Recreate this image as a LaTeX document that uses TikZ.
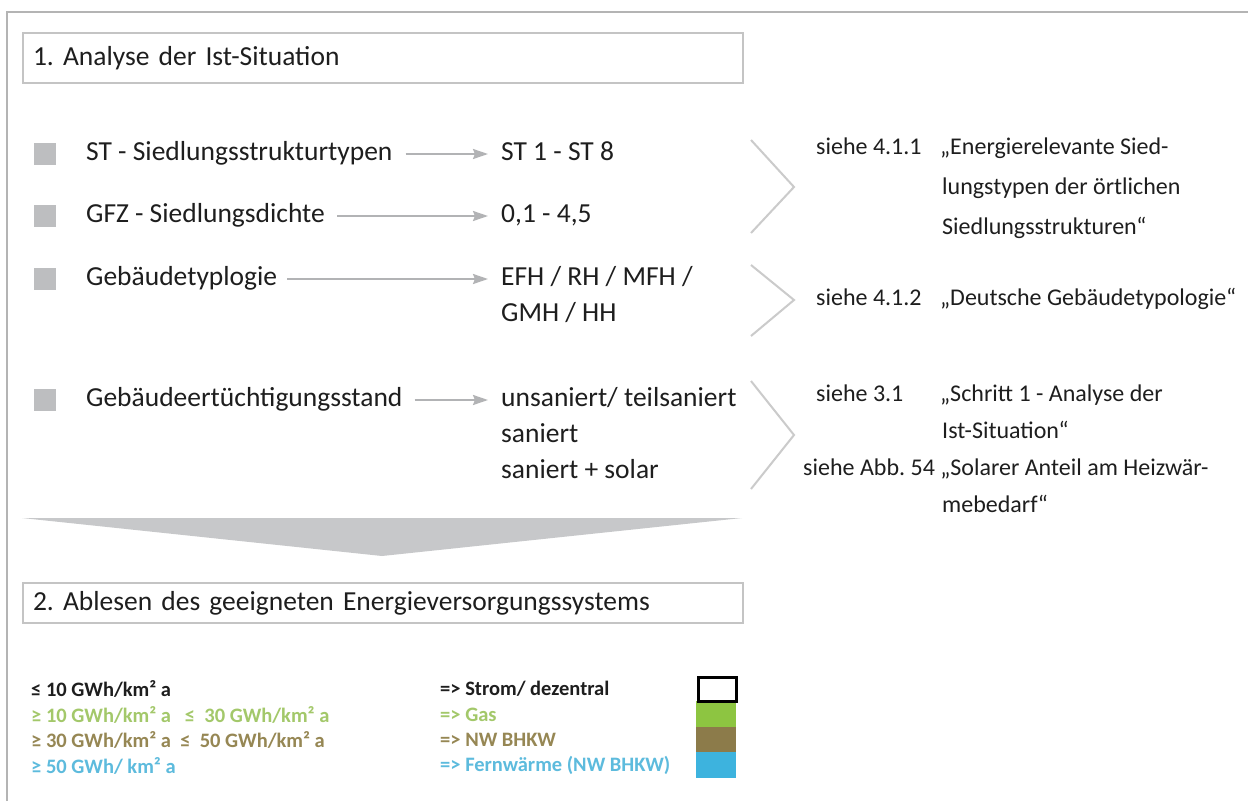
\documentclass[tikz,border=0pt]{standalone}
\usepackage{fontspec}
\setmainfont{Carlito}
\frenchspacing
\usetikzlibrary{arrows.meta}
\definecolor{txt}{HTML}{1E1E1E}
\definecolor{framec}{HTML}{B4B4B4}
\definecolor{boxc}{HTML}{C4C4C4}
\definecolor{bulc}{HTML}{BDBEC0}
\definecolor{arrc}{HTML}{B2B3B5}
\definecolor{chevc}{HTML}{CBCBCB}
\definecolor{bigc}{HTML}{C7C8CA}
\definecolor{lgreen}{HTML}{A3C86A}
\definecolor{lolive}{HTML}{968754}
\definecolor{lblue}{HTML}{5DBBDD}
\definecolor{sgreen}{HTML}{8DC541}
\definecolor{solive}{HTML}{8C7B4A}
\definecolor{sblue}{HTML}{3DB3DE}
\tikzset{
 titlebox/.style={draw=boxc, line width=2pt, anchor=north west, minimum height=50pt, text width=700pt, inner xsep=10pt, align=left, font=\fontsize{27.5}{32}\selectfont\frenchspacing, text=txt},
 rowtext/.style={anchor=west, inner sep=0pt, font=\fontsize{27.5}{32}\selectfont, text=txt, text height=19pt, text depth=6pt},
 bullet/.style={fill=bulc, minimum size=22pt, inner sep=0pt},
 rowarrow/.style={draw=arrc, line width=2pt, -{Stealth[length=15pt,width=10pt,inset=2pt]}},
 chev/.style={draw=chevc, line width=2pt},
 reftext/.style={anchor=west, inner sep=0pt, font=\fontsize{24}{28}\selectfont\frenchspacing, text=txt, text height=16pt, text depth=5pt},
 legtext/.style={anchor=west, inner sep=0pt, font=\bfseries\fontsize{20.5}{24}\selectfont},
 swatch/.style={minimum width=40pt, minimum height=25.5pt, inner sep=0pt, anchor=north west},
}
\begin{document}
\begin{tikzpicture}[x=1pt,y=-1pt]
\useasboundingbox (0,0) rectangle (1248,801);
\fill[white] (0,0) rectangle (1248,801);
\draw[framec, line width=2.4pt] (7,801) -- (7,12) -- (1248,12);

\node[titlebox] (box1) at (22,32) {1. Analyse der Ist-Situation};

% rows
\node[bullet] (b1) at (45,154) {};
\node[rowtext] (l1) at (86,154) {ST - Siedlungsstrukturtypen};
\node[rowtext] (v1) at (501,154) {ST 1 - ST 8};
\draw[rowarrow] ([xshift=13pt]l1.east) -- ([xshift=-13pt]v1.west);

\node[bullet] (b2) at (45,216) {};
\node[rowtext] (l2) at (86,216) {GFZ - Siedlungsdichte};
\node[rowtext] (v2) at (501,216) {0,1 - 4,5};
\draw[rowarrow] ([xshift=12pt]l2.east) -- ([xshift=-13pt]v2.west);

\node[bullet] (b3) at (45,279) {};
\node[rowtext] (l3) at (86,279) {Gebäudetyplogie};
\node[rowtext] (v3) at (501,279) {EFH / RH / MFH /};
\node[rowtext] (v3b) at (501,315) {GMH / HH};
\draw[rowarrow] ([xshift=10pt]l3.east) -- ([xshift=-13pt]v3.west);

\node[bullet] (b4) at (45,400) {};
\node[rowtext] (l4) at (86,400) {Gebäudeertüchtigungsstand};
\node[rowtext] (v4) at (501,400) {unsaniert/ teilsaniert};
\node[rowtext] (v4b) at (501,436) {saniert};
\node[rowtext] (v4c) at (501,472) {saniert + solar};
\draw[rowarrow] ([xshift=12pt]l4.east) -- ([xshift=-13pt]v4.west);

% chevrons
\draw[chev] (751,140) -- (794,187) -- (751,233);
\draw[chev] (751,265) -- (794,300) -- (751,336);
\draw[chev] (751,381) -- (794,435) -- (751,489);

% references
\node[reftext] (s1) at (816,149) {siehe 4.1.1};
\node[reftext] (q1a) at (940,149) {„Energierelevante Sied-};
\node[reftext] (q1b) at (942,189) {lungstypen der örtlichen};
\node[reftext] (q1c) at (942,229) {Siedlungsstrukturen“};
\node[reftext] (s2) at (816,300) {siehe 4.1.2};
\node[reftext] (q2) at (940,300) {„Deutsche Gebäudetypologie“};
\node[reftext] (s3) at (816,396) {siehe 3.1};
\node[reftext] (q3a) at (940,396) {„Schritt 1 - Analyse der};
\node[reftext] (q3b) at (942,433) {Ist-Situation“};
\node[reftext] (s4) at (803,470) {siehe Abb. 54 „Solarer Anteil am Heizwär-};
\node[reftext] (q4b) at (942,507) {mebedarf“};

% big down arrow
\fill[bigc] (22,518) -- (742,518) -- (382,556) -- cycle;

\node[titlebox, minimum height=40pt] (box2) at (22,582) {2. Ablesen des geeigneten Energieversorgungssystems};

% legend
\node[legtext, text=txt] (k1) at (31,689) {≤ 10 GWh/km² a};
\node[legtext, text=lgreen] (k2) at (31,714.5) {≥ 10 GWh/km² a \ \ ≤ \ 30 GWh/km² a};
\node[legtext, text=lolive] (k3) at (31,740) {≥ 30 GWh/km² a \ ≤ \ 50 GWh/km² a};
\node[legtext, text=lblue] (k4) at (31,765.5) {≥ 50 GWh/ km² a};

\node[legtext, text=txt] (e1) at (440,689) {=> Strom/ dezentral};
\node[legtext, text=lgreen] (e2) at (440,714.5) {=> Gas};
\node[legtext, text=lolive] (e3) at (440,740) {=> NW BHKW};
\node[legtext, text=lblue] (e4) at (440,765.5) {=> Fernwärme (NW BHKW)};

\node[swatch, fill=sgreen] (w2) at (696,701) {};
\node[swatch, fill=solive] (w3) at (696,726.5) {};
\node[swatch, fill=sblue] (w4) at (696,752) {};
\node[swatch, draw=black, line width=2.5pt, fill=white, minimum width=38pt, minimum height=24pt] (w1) at (697,676) {};
\end{tikzpicture}
\end{document}
